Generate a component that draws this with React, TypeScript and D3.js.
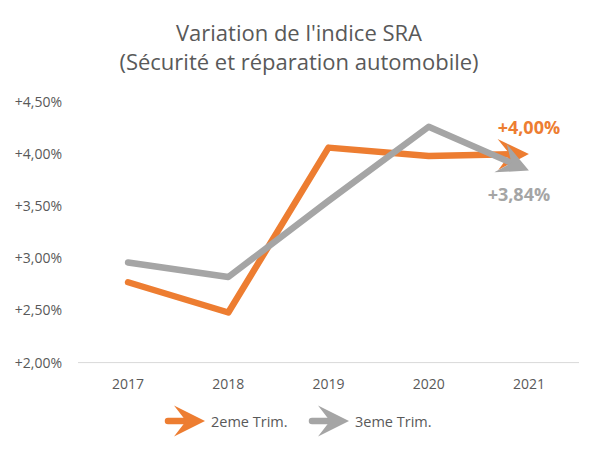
import React from "react";
import * as d3 from "d3";

const years = ["2017", "2018", "2019", "2020", "2021"];
const trim2 = [2.77, 2.48, 4.06, 3.98, 4.0];
const trim3 = [2.96, 2.82, 3.55, 4.26, 3.84];
const yTicks = [2.0, 2.5, 3.0, 3.5, 4.0, 4.5];
const seriesNames = ["2eme Trim.", "3eme Trim."];
const titleLines = ["Variation de l'indice SRA", "(Sécurité et réparation automobile)"];
const endLabels = ["+4,00%", "+3,84%"];

const ORANGE = "#ED7D31";
const GRAY = "#A5A5A5";
const TEXT = "#595959";
const FONT = "'Open Sans', sans-serif";

const fmt = (v: number) => "+" + v.toFixed(2).replace(".", ",") + "%";

// arrowhead (stealth) pointing along +x, tip at origin
const L = 31;
const HW = 15.5;
const NOTCH = 19;
const headPath = `M0,0 L${-L},${-HW} L${-NOTCH},0 L${-L},${HW} Z`;

function Series({ values, color, x, y }: any) {
  const pts: [number, number][] = values.map((v: number, i: number) => [
    (x(years[i]) as number) + x.bandwidth() / 2,
    y(v),
  ]);
  const n = pts.length;
  const [px, py] = pts[n - 2];
  const [tx, ty] = pts[n - 1];
  const ang = Math.atan2(ty - py, tx - px);
  const lastPts = pts.slice(0, n - 1);
  lastPts.push([tx - Math.cos(ang) * NOTCH, ty - Math.sin(ang) * NOTCH]);
  const line = d3.line()(lastPts) as string;
  return (
    <g>
      <path d={line} fill="none" stroke={color} strokeWidth={6.5} strokeLinejoin="round" strokeLinecap="round" />
      <path d={headPath} fill={color} transform={`translate(${tx},${ty}) rotate(${(ang * 180) / Math.PI})`} />
    </g>
  );
}

function LegendItem({ x0, y0, color, label }: any) {
  const tip = x0 + 37;
  return (
    <g>
      <line x1={x0} y1={y0} x2={tip - NOTCH} y2={y0} stroke={color} strokeWidth={6.5} strokeLinecap="round" />
      <path d={headPath} fill={color} transform={`translate(${tip},${y0})`} />
      <text x={tip + 6} y={y0 + 5.5} fontSize={14.5} fill={TEXT} fontFamily={FONT}>
        {label}
      </text>
    </g>
  );
}

export default function App() {
  const x = d3.scaleBand<string>().domain(years).range([78, 579]);
  const y = d3.scaleLinear().domain([2, 4.5]).range([362.6, 101.7]);
  const xr = x.range();
  return (
    <svg width={600} height={449} style={{ position: "absolute", left: 0, top: 0, background: "#fff" }}>
      <rect width={600} height={449} fill="#fff" />
      {titleLines.map((t, i) => (
        <text key={t} x={299} y={40.5 + i * 29.5} textAnchor="middle" fontSize={22} fill={TEXT} fontFamily={FONT}>
          {t}
        </text>
      ))}
      {yTicks.map((v) => (
        <text key={v} x={62} y={y(v) + 5} textAnchor="end" fontSize={14} fill={TEXT} fontFamily={FONT}>
          {fmt(v)}
        </text>
      ))}
      <line x1={xr[0]} x2={xr[1]} y1={y(2)} y2={y(2)} stroke="#D9D9D9" strokeWidth={1} />
      {years.map((yr) => (
        <text key={yr} x={(x(yr) as number) + x.bandwidth() / 2} y={389} textAnchor="middle" fontSize={14} fill={TEXT} fontFamily={FONT}>
          {yr}
        </text>
      ))}
      <Series values={trim2} color={ORANGE} x={x} y={y} />
      <Series values={trim3} color={GRAY} x={x} y={y} />
      <text x={(x(years[4]) as number) + x.bandwidth() / 2} y={y(trim2[4]) - 20} textAnchor="middle" fontSize={18} fontWeight="bold" fill={ORANGE} fontFamily={FONT}>
        {endLabels[0]}
      </text>
      <text x={(x(years[4]) as number) + x.bandwidth() / 2 - 10} y={y(trim3[4]) + 30} textAnchor="middle" fontSize={18} fontWeight="bold" fill={GRAY} fontFamily={FONT}>
        {endLabels[1]}
      </text>
      <LegendItem x0={168} y0={421} color={ORANGE} label={seriesNames[0]} />
      <LegendItem x0={312} y0={421} color={GRAY} label={seriesNames[1]} />
    </svg>
  );
}
